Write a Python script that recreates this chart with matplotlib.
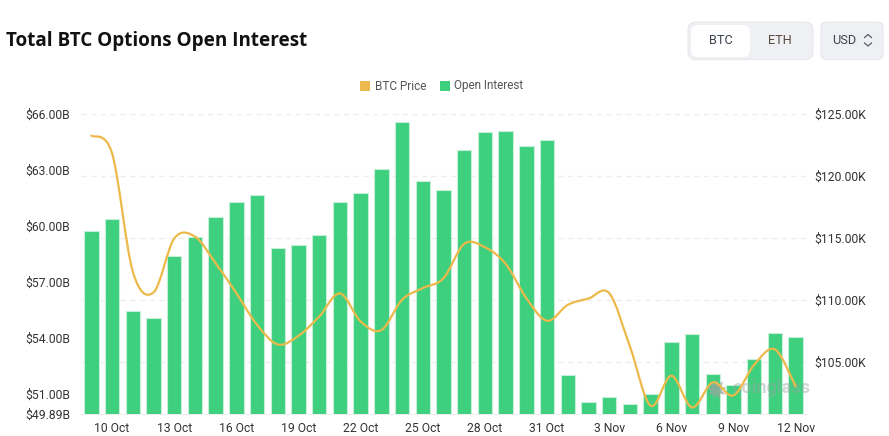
import matplotlib
matplotlib.use("Agg")
import matplotlib.pyplot as plt
from matplotlib.patches import FancyBboxPatch, PathPatch, Rectangle
from matplotlib.path import Path
import pandas as pd

W, H = 889, 436
FONT = "Roboto"
GREEN = "#3ecf7f"
GOLD = "#ecb94a"
GREY = "#333333"

dates = pd.date_range("2025-10-09", "2025-11-12")
labels = [d.strftime("%d %b").lstrip("0") for d in dates]

open_interest = [59.72, 60.36, 55.44, 55.05, 58.39, 59.43, 60.47, 61.29, 61.65,
                 58.80, 58.95, 59.50, 61.31, 61.78, 63.05, 65.61, 62.40, 61.94,
                 64.07, 65.03, 65.09, 64.30, 64.60, 51.99, 50.54, 50.79, 50.43,
                 50.95, 53.76, 54.17, 52.06, 51.43, 52.84, 54.22, 54.01]
btc_price = [123.28, 121.85, 112.31, 110.62, 114.97, 115.13, 112.98, 110.56, 108.01,
             106.42, 107.12, 108.68, 110.54, 108.28, 107.58, 110.03, 110.97, 111.77,
             114.54, 114.27, 112.93, 110.16, 108.33, 109.62, 110.13, 110.56, 106.26,
             101.48, 103.90, 101.34, 103.36, 102.31, 104.78, 106.02, 103.04]

oi_ticks = [49.89, 51, 54, 57, 60, 63, 66]
oi_ticklabels = ["$49.89B", "$51.00B", "$54.00B", "$57.00B", "$60.00B", "$63.00B", "$66.00B"]
price_ticks = [105, 110, 115, 120, 125]
price_ticklabels = ["$105.00K", "$110.00K", "$115.00K", "$120.00K", "$125.00K"]
OI_LIM = (49.89, 66)
PRICE_LIM = (100.81, 125)


def smooth_path(xs, ys):
    # catmull-rom through the daily values, same idea as the smooth line in the original
    verts = [(xs[0], ys[0])]
    codes = [Path.MOVETO]
    n = len(xs)
    for i in range(n - 1):
        a = max(i - 1, 0)
        b = min(i + 2, n - 1)
        verts.append((xs[i] + (xs[i + 1] - xs[a]) / 6, ys[i] + (ys[i + 1] - ys[a]) / 6))
        verts.append((xs[i + 1] - (xs[b] - xs[i]) / 6, ys[i + 1] - (ys[b] - ys[i]) / 6))
        verts.append((xs[i + 1], ys[i + 1]))
        codes += [Path.CURVE4] * 3
    return Path(verts, codes)


fig = plt.figure(figsize=(W / 100, H / 100), dpi=100, facecolor="white")
rect = [81 / W, (H - 414) / H, 725 / W, 299.7 / H]

# grid belongs to the price scale and sits under the bars
ax_price = fig.add_axes(rect)
ax_price.set_xlim(-0.5, len(dates) - 0.5)
ax_price.set_ylim(*PRICE_LIM)
ax_price.set_yticks(price_ticks)
ax_price.set_yticklabels(price_ticklabels, fontsize=8.7, color=GREY, family=FONT)
ax_price.yaxis.tick_right()
ax_price.tick_params(axis="y", length=0, pad=6)
ax_price.grid(axis="y", color="#eeeeee", lw=1, dashes=(4, 3))
ax_price.set_axisbelow(True)
ax_price.set_xticks(range(1, len(dates), 3))
ax_price.set_xticklabels(labels[1::3], fontsize=8.7, color=GREY, family=FONT)
ax_price.tick_params(axis="x", length=0, pad=6)
for s in ["top", "left", "right"]:
    ax_price.spines[s].set_visible(False)
ax_price.spines["bottom"].set_color("#eeeeee")

ax_oi = fig.add_axes(rect, sharex=ax_price)
ax_oi.patch.set_alpha(0)
ax_oi.set_ylim(*OI_LIM)
ax_oi.bar(range(len(dates)), open_interest, width=0.69, color=GREEN,
          edgecolor="#c4f0d8", linewidth=0.8)
ax_oi.set_yticks(oi_ticks)
ax_oi.set_yticklabels(oi_ticklabels, fontsize=8.7, color=GREY, family=FONT)
ax_oi.tick_params(axis="y", length=0, pad=8)
ax_oi.tick_params(axis="x", bottom=False, labelbottom=False)
for s in ax_oi.spines.values():
    s.set_visible(False)

# whole figure in pixels, for the title, buttons and legend
ui = fig.add_axes([0, 0, 1, 1])
ui.set_xlim(0, W)
ui.set_ylim(H, 0)
ui.axis("off")
ui.patch.set_alpha(0)


def button(x0, y0, x1, y1, fc, ec="none", r=6):
    ui.add_patch(FancyBboxPatch((x0 + r, y0 + r), x1 - x0 - 2 * r, y1 - y0 - 2 * r,
                                boxstyle=f"round,pad={r},rounding_size={r}",
                                fc=fc, ec=ec, lw=0.8))


ui.text(6, 41, "Total BTC Options Open Interest", fontsize=13.6, fontweight="bold",
        color="#111111", family="Open Sans", va="center", ha="left")

button(688, 22, 813, 59.5, "#eef0f3", "#e6e8eb", r=8)
button(691, 25, 750, 57, "white", r=7)
button(821, 22, 883, 59.5, "#eef0f3", "#e6e8eb", r=5)
ui.text(720.5, 40, "BTC", fontsize=9.2, color="#3c4350", family=FONT, ha="center", va="center")
ui.text(780, 40, "ETH", fontsize=9.2, color="#5a4a3c", family=FONT, ha="center", va="center")
ui.text(844, 40, "USD", fontsize=9.2, color="#3c4350", family=FONT, ha="center", va="center")
ui.plot([864.5, 868, 871.5], [37.5, 34.5, 37.5], color="#555b66", lw=0.9)
ui.plot([864.5, 868, 871.5], [43, 46, 43], color="#555b66", lw=0.9)

ui.add_patch(Rectangle((360, 81), 10, 10, fc=GOLD, ec="none"))
ui.text(375, 86, "BTC Price", fontsize=8.5, color="#555555", family=FONT, va="center")
ui.add_patch(Rectangle((440, 81), 10, 10, fc=GREEN, ec="none"))
ui.text(454, 86, "Open Interest", fontsize=8.5, color="#555555", family=FONT, va="center")

# watermark
ui.scatter([716], [389], s=230, marker=(9, 1, 0), color="#9aa5a0", alpha=0.75, lw=0)
ui.text(732, 388, "coinglass", fontsize=13, fontweight="bold", color="#9aa5a0", alpha=0.45,
        family=FONT, va="center")

# line on its own layer so it stays over the bars
ax_line = fig.add_axes(rect, sharex=ax_price)
ax_line.set_ylim(*PRICE_LIM)
ax_line.axis("off")
ax_line.patch.set_alpha(0)
ax_line.add_patch(PathPatch(smooth_path(list(range(len(dates))), btc_price),
                            fc="none", ec=GOLD, lw=1.6, capstyle="round"))

fig.savefig("out.png", dpi=100)
